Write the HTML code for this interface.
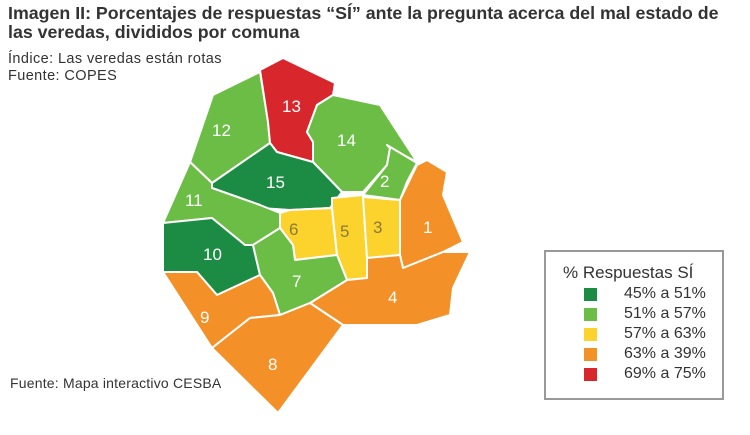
<!DOCTYPE html>
<html><head><meta charset="utf-8"><style>
body{margin:0;width:750px;height:435px;background:#fff;font-family:"Liberation Sans",sans-serif;overflow:hidden;position:relative}
.t{position:absolute;left:8px;top:4px;font-size:17.8px;font-weight:bold;color:#333;line-height:19px;white-space:nowrap}
.s{position:absolute;left:8px;top:51px;font-size:14.5px;letter-spacing:0.4px;color:#333;line-height:17px}
.f{position:absolute;left:10px;top:375px;font-size:14px;color:#333;letter-spacing:0.2px}
.lg{position:absolute;left:544px;top:250px;width:180px;height:150px;border:2px solid #999;box-sizing:border-box}
.lg .h{position:absolute;left:17px;top:11px;font-size:17px;color:#333;white-space:nowrap}
.r{position:absolute;left:38px;font-size:16px;color:#333}
.r i{position:absolute;left:0;top:3px;width:13px;height:13px}
.r span{position:absolute;left:40px;white-space:nowrap}
</style></head><body>
<div class="t">Imagen II: Porcentajes de respuestas “SÍ” ante la pregunta acerca del mal estado de<br>las veredas, divididos por comuna</div>
<div class="s">Índice: Las veredas están rotas<br>Fuente: COPES</div>
<div class="f">Fuente: Mapa interactivo CESBA</div>
<svg width="750" height="435" style="position:absolute;left:0;top:0">
<g stroke="#fff" stroke-width="2" stroke-linejoin="round" font-family="Liberation Sans" font-size="17">
<polygon fill="#6cbd45" points="190,162 213,95 260,72 268,122 270,143 212,183"/>
<polygon fill="#d7262c" points="260,70 283,58 335,83 333,95 317,105 307,132 313,142 313,162 277,152 270,143 268,122"/>
<polygon fill="#6cbd45" points="333,95 380,105 417,162 390,148 387,165 363,192 342,192 313,162 313,142 307,132 317,105"/>
<polygon fill="#1c8c45" points="270,143 277,152 313,162 342,192 330,208 290,210 260,208 260,205 212,188 212,183"/>
<polygon fill="#6cbd45" points="390,148 387,145 417,163 407,182 400,200 363,195 387,165"/>
<polygon fill="#6cbd45" points="190,162 212,183 212,188 260,205 280,213 280,228 253,245 245,245 212,218 163,223"/>
<polygon fill="#1c8c45" points="163,223 212,218 245,245 253,245 260,275 217,295 197,272 163,272"/>
<polygon fill="#fcd32d" points="280,213 290,210 332,208 337,255 295,260 293,245 280,228"/>
<polygon fill="#fcd32d" points="332,198 363,195 367,258 367,278 347,280 337,255 332,208"/>
<polygon fill="#fcd32d" points="363,197 400,200 400,255 367,258"/>
<polygon fill="#f39128" points="400,200 417,165 427,160 447,172 443,195 463,242 443,252 403,268 400,255"/>
<polygon fill="#f39128" points="367,278 367,258 400,255 403,268 443,252 470,252 453,288 450,315 417,325 343,325 310,303 347,280"/>
<polygon fill="#6cbd45" points="253,245 280,228 293,245 295,260 337,255 347,280 310,303 280,315 273,293 260,275"/>
<polygon fill="#f39128" points="163,272 197,272 217,295 260,275 273,293 280,315 250,318 212,348"/>
<polygon fill="#f39128" points="212,348 250,318 280,315 310,303 343,325 278,413"/>
<g stroke="none" fill="#fff"><text x="282" y="112">13</text><text x="212" y="136">12</text><text x="337" y="146">14</text><text x="266" y="188">15</text><text x="380" y="187">2</text><text x="185" y="206">11</text><text x="203" y="260">10</text><text x="423" y="233">1</text><text x="289" y="235" fill="#8a7a3a">6</text><text x="340" y="237" fill="#8a7a3a">5</text><text x="373" y="233" fill="#8a7a3a">3</text><text x="292" y="287">7</text><text x="388" y="303">4</text><text x="200" y="323">9</text><text x="268" y="370">8</text></g>
</g></svg>
<div class="lg"><div class="h">% Respuestas SÍ</div>
<div class="r" style="top:33px"><i style="background:#1c8c45"></i><span>45% a 51%</span></div>
<div class="r" style="top:53px"><i style="background:#6cbd45"></i><span>51% a 57%</span></div>
<div class="r" style="top:73px"><i style="background:#fcd32d"></i><span>57% a 63%</span></div>
<div class="r" style="top:93px"><i style="background:#f39128"></i><span>63% a 39%</span></div>
<div class="r" style="top:113px"><i style="background:#d7262c"></i><span>69% a 75%</span></div>
</div>
</body></html>
